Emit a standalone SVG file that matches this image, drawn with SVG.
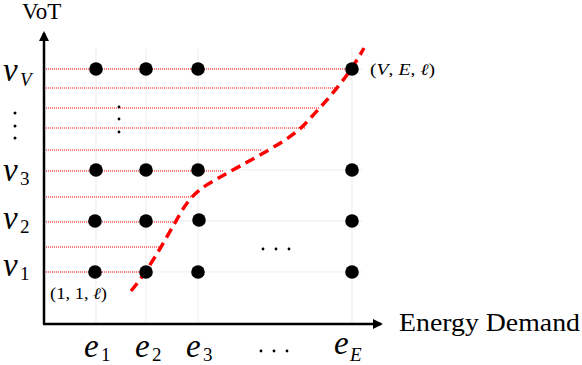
<svg xmlns="http://www.w3.org/2000/svg" width="582" height="365" viewBox="0 0 582 365">
<style>
.grid{stroke:#e4e4e4;stroke-width:0.7;fill:none}
.rl{stroke:#ff0000;stroke-width:1;stroke-dasharray:1 1;fill:none}
.dot{fill:#000}
.ax{stroke:#000;stroke-width:2.5;fill:none}
.curve{stroke:#ff0000;stroke-width:3.5;stroke-dasharray:10 6;fill:none}
.t{font-family:"Liberation Serif","DejaVu Serif",serif;fill:#000}
.m{font-family:"Liberation Serif","DejaVu Serif",serif;font-style:italic;fill:#000}
.big{font-size:33px}
.sub{font-size:19px}
.sm{fill:#000}
</style>
<defs>
<marker id="arr" viewBox="0 0 10 10" refX="8" refY="5" markerWidth="4" markerHeight="4" orient="auto" markerUnits="strokeWidth">
<path d="M0,0 L10,5 L0,10 z" fill="#000"/>
</marker>
</defs>
<g id="grid">
<path class="grid" d="M96,48V323M146,48V323M198,48V323M352,48V323M44,69H362M44,170H362M44,221H362M44,272H362"/>
</g>
<g id="connectors">
<path class="rl" d="M44,69H352M44,88H336M44,108H320M44,128H305M44,150H262M44,171H224M44,197H192M44,222H174M44,247H162M44,272H145"/>
<path class="curve" d="M131,291 C150,268 165,240 180,214 C188,200 196,191 210,183 C225,174 250,161 272,148 C286,140 296,133 305,124 C325,102 345,82 364,48"/>
<line class="ax" x1="44" y1="324" x2="44" y2="33" marker-end="url(#arr)"/>
<line class="ax" x1="43" y1="324" x2="381" y2="324" marker-end="url(#arr)"/>
</g>
<g id="nodes">
<g id="row-vV"><circle class="dot" cx="96" cy="69" r="6.8"/><circle class="dot" cx="146" cy="69" r="6.8"/><circle class="dot" cx="198" cy="69" r="6.8"/><circle class="dot" cx="352" cy="69" r="6.8"/></g>
<g id="row-v3"><circle class="dot" cx="96" cy="170" r="6.8"/><circle class="dot" cx="146" cy="170" r="6.8"/><circle class="dot" cx="198" cy="170" r="6.8"/><circle class="dot" cx="352" cy="170" r="6.8"/></g>
<g id="row-v2"><circle class="dot" cx="95" cy="221" r="6.8"/><circle class="dot" cx="146" cy="221" r="6.8"/><circle class="dot" cx="199" cy="220" r="6.8"/><circle class="dot" cx="352" cy="221" r="6.8"/></g>
<g id="row-v1"><circle class="dot" cx="95" cy="272" r="6.8"/><circle class="dot" cx="146" cy="272" r="6.8"/><circle class="dot" cx="198" cy="272" r="6.8"/><circle class="dot" cx="352" cy="272" r="6.8"/></g>
</g>
<g id="ellipses">
<circle class="sm" cx="15" cy="113" r="1.5"/><circle class="sm" cx="15" cy="126" r="1.5"/><circle class="sm" cx="15" cy="138" r="1.5"/>
<circle class="sm" cx="119" cy="107" r="1.4"/><circle class="sm" cx="119" cy="119" r="1.4"/><circle class="sm" cx="119" cy="132" r="1.4"/>
<circle class="sm" cx="263" cy="249" r="1.4"/><circle class="sm" cx="276" cy="249" r="1.4"/><circle class="sm" cx="289" cy="249" r="1.4"/>
<circle class="sm" cx="261" cy="351" r="1.4"/><circle class="sm" cx="274" cy="351" r="1.4"/><circle class="sm" cx="287" cy="351" r="1.4"/>
</g>
<g id="labels">
<text class="t" x="22" y="19" font-size="23">VoT</text>
<text class="t" x="399" y="331" font-size="25" textLength="181" lengthAdjust="spacingAndGlyphs">Energy Demand</text>
<text class="m big" x="3" y="81">v</text><text class="m sub" x="20" y="86">V</text>
<text class="m big" x="3" y="181">v</text><text class="t sub" x="20" y="185">3</text>
<text class="m big" x="3" y="229">v</text><text class="t sub" x="20" y="233">2</text>
<text class="m big" x="3" y="276">v</text><text class="t sub" x="20" y="280">1</text>
<text class="m big" x="84" y="357">e</text><text class="t sub" x="101" y="361">1</text>
<text class="m big" x="135" y="357">e</text><text class="t sub" x="152" y="361">2</text>
<text class="m big" x="186" y="357">e</text><text class="t sub" x="203" y="361">3</text>
<text class="m big" x="334" y="354">e</text><text class="m sub" x="350" y="361">E</text>
<text class="t" x="50" y="299" font-size="16" textLength="57" lengthAdjust="spacingAndGlyphs">(1, 1, <tspan font-style="italic">ℓ</tspan>)</text>
<text class="t" x="370" y="75" font-size="16" textLength="65" lengthAdjust="spacingAndGlyphs">(<tspan font-style="italic">V</tspan>, <tspan font-style="italic">E</tspan>, <tspan font-style="italic">ℓ</tspan>)</text>
</g>
</svg>
